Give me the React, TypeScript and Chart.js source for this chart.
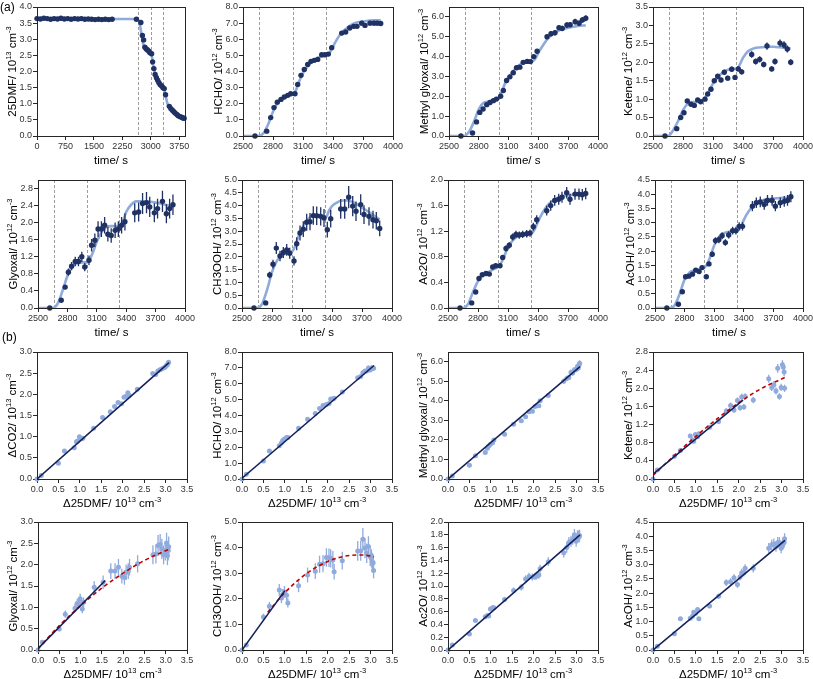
import React, { useEffect, useRef } from 'react';
import { Chart, registerables } from 'chart.js';
Chart.register(...registerables);

// ---------------- DATA ----------------
// (a) time series, 25DMF before lights-on
const T_EARLY = [0, 90, 180, 270, 360, 450, 540, 630, 720, 810, 900, 990, 1080, 1170, 1260, 1350, 1440, 1530, 1620, 1710, 1800, 1890, 1980];
const DMF_EARLY = [3.64, 3.63, 3.65, 3.64, 3.62, 3.64, 3.63, 3.65, 3.63, 3.64, 3.62, 3.64, 3.63, 3.64, 3.62, 3.63, 3.62, 3.61, 3.62, 3.61, 3.62, 3.61, 3.62];
// common measurement times (s)
const T = [2620, 2737, 2777, 2810, 2843, 2880, 2913, 2947, 2977, 3020, 3047, 3080, 3113, 3147, 3180, 3213, 3247, 3287, 3320, 3353, 3387, 3487, 3527, 3567, 3607, 3640, 3687, 3720, 3770, 3810, 3843, 3877];
const DMF = [3.62, 3.52, 3.12, 2.98, 2.75, 2.70, 2.67, 2.63, 2.58, 2.55, 2.30, 2.09, 1.91, 1.81, 1.73, 1.65, 1.59, 1.55, 1.50, 1.47, 1.28, 0.92, 0.85, 0.80, 0.75, 0.71, 0.67, 0.63, 0.60, 0.58, 0.56, 0.55];
const HCHO = [0, 0.3, 1.14, 1.76, 2.1, 2.27, 2.42, 2.52, 2.62, 2.62, 3.2, 3.76, 4.13, 4.44, 4.63, 4.69, 4.75, 5.04, 5.04, 5.08, 5.48, 6.38, 6.45, 6.7, 6.8, 6.8, 7.0, 6.86, 7.0, 7.0, 7.0, 6.98];
const MGLY = [0, 0.15, 0.71, 1.19, 1.36, 1.58, 1.69, 1.78, 1.86, 2.0, 2.29, 2.8, 2.98, 3.19, 3.44, 3.47, 3.71, 3.76, 3.75, 4.0, 4.27, 5.0, 5.15, 5.2, 5.46, 5.42, 5.59, 5.61, 5.76, 5.68, 5.85, 5.93];
const KETENE = [0, 0.2, 0.5, 0.63, 0.95, 0.86, 0.83, 0.98, 0.93, 1.0, 1.14, 1.27, 1.5, 1.62, 1.52, 1.73, 1.57, 1.81, 1.59, 1.82, 1.74, 2.21, 2.02, 2.08, 1.94, 2.44, 1.82, 2.02, 2.52, 2.47, 2.36, 2.0];
const GLYOXAL = [0, 0.18, 0.49, 0.84, 0.98, 1.09, 1.09, 1.2, 0.96, 1.12, 1.47, 1.59, 1.85, 1.85, 1.94, 1.73, 1.7, 1.82, 1.85, 1.94, 2.02, 2.23, 2.25, 2.45, 2.47, 2.37, 2.23, 2.33, 2.5, 2.21, 2.33, 2.42];
const CH3OOH = [0, 0.2, 1.29, 1.71, 2.34, 2.03, 2.17, 2.27, 2.14, 1.84, 2.51, 2.93, 3.08, 3.35, 3.37, 3.61, 3.6, 3.58, 3.52, 3.06, 3.49, 3.87, 3.87, 4.33, 3.98, 3.78, 4.04, 3.65, 3.58, 3.45, 3.41, 3.11];
const AC2O = [0, 0.08, 0.25, 0.46, 0.52, 0.54, 0.53, 0.64, 0.66, 0.66, 0.79, 0.93, 0.98, 1.11, 1.15, 1.14, 1.15, 1.16, 1.17, 1.27, 1.38, 1.52, 1.6, 1.68, 1.7, 1.73, 1.8, 1.7, 1.78, 1.78, 1.77, 1.79];
const ACOH = [0, 0.13, 0.57, 1.1, 1.12, 1.19, 1.33, 1.28, 1.42, 1.1, 1.55, 1.89, 2.37, 2.4, 2.54, 2.3, 2.57, 2.72, 2.72, 2.87, 2.87, 3.58, 3.7, 3.73, 3.64, 3.78, 3.78, 3.58, 3.7, 3.75, 3.78, 3.91];

// model curves (light blue lines)
const DMF_MODEL_T = [0, 2620, 2680, 2720, 2760, 2800, 2850, 2900, 2950, 3000, 3030, 3060, 3100, 3150, 3200, 3250, 3300, 3340, 3380, 3420, 3470, 3520, 3570, 3620, 3700, 3780, 3877];
const DMF_MODEL = [3.63, 3.63, 3.58, 3.4, 3.1, 2.85, 2.72, 2.66, 2.61, 2.56, 2.45, 2.22, 2.0, 1.82, 1.7, 1.6, 1.52, 1.47, 1.32, 1.08, 0.9, 0.82, 0.76, 0.71, 0.65, 0.6, 0.55];
const MODEL_T = [2500, 2650, 2700, 2750, 2800, 2850, 2900, 2950, 3000, 3030, 3060, 3100, 3150, 3200, 3250, 3300, 3340, 3370, 3400, 3450, 3500, 3550, 3600, 3650, 3700, 3750, 3800, 3877];
const HCHO_MODEL = [0, 0, 0.15, 0.7, 1.5, 2.1, 2.35, 2.5, 2.6, 2.85, 3.35, 3.9, 4.35, 4.65, 4.85, 4.95, 5.02, 5.2, 5.55, 6.1, 6.5, 6.75, 6.95, 7.05, 7.1, 7.15, 7.17, 7.18];
const MGLY_MODEL = [0, 0, 0.2, 0.7, 1.35, 1.68, 1.74, 1.82, 1.95, 2.2, 2.6, 2.95, 3.3, 3.55, 3.68, 3.72, 3.75, 3.9, 4.2, 4.6, 4.95, 5.15, 5.3, 5.4, 5.45, 5.5, 5.55, 5.57];
const KETENE_MODEL = [0, 0, 0.15, 0.4, 0.7, 0.88, 0.92, 0.93, 0.98, 1.08, 1.22, 1.42, 1.6, 1.73, 1.8, 1.82, 1.83, 1.95, 2.12, 2.3, 2.37, 2.4, 2.41, 2.42, 2.42, 2.41, 2.4, 2.37];
const GLYOXAL_MODEL = [0, 0, 0.1, 0.4, 0.75, 0.98, 1.05, 1.07, 1.07, 1.15, 1.3, 1.55, 1.78, 1.9, 1.92, 1.92, 1.92, 2.05, 2.25, 2.42, 2.5, 2.5, 2.5, 2.49, 2.47, 2.45, 2.42, 2.38];
const CH3OOH_MODEL = [0, 0, 0.15, 0.7, 1.4, 1.85, 2.05, 2.15, 2.2, 2.4, 2.75, 3.1, 3.42, 3.6, 3.65, 3.6, 3.55, 3.8, 3.98, 4.12, 4.2, 4.2, 4.15, 4.05, 3.92, 3.8, 3.66, 3.45];
const AC2O_MODEL = [0, 0, 0.06, 0.25, 0.42, 0.52, 0.56, 0.6, 0.64, 0.7, 0.8, 0.95, 1.06, 1.12, 1.14, 1.16, 1.17, 1.24, 1.35, 1.5, 1.61, 1.68, 1.72, 1.75, 1.76, 1.77, 1.77, 1.77];
const ACOH_MODEL = [0, 0, 0.1, 0.5, 1.0, 1.25, 1.32, 1.37, 1.42, 1.55, 1.8, 2.2, 2.5, 2.63, 2.68, 2.7, 2.72, 2.85, 3.1, 3.4, 3.6, 3.72, 3.8, 3.83, 3.85, 3.86, 3.87, 3.88];

// phase boundaries (grey dashed lines)
const PHASE_T = [2660, 3000, 3330];

// (b) correlation: Δ25DMF at each measurement time
const D_DMF = [0, 0.10, 0.50, 0.64, 0.87, 0.92, 0.95, 0.99, 1.04, 1.07, 1.32, 1.53, 1.71, 1.81, 1.89, 1.97, 2.03, 2.07, 2.12, 2.15, 2.34, 2.70, 2.77, 2.82, 2.87, 2.91, 2.95, 2.99, 3.02, 3.04, 3.06, 3.07];
const D_CO2 = [0, 0.08, 0.37, 0.66, 0.74, 0.88, 0.9, 1.0, 0.95, 0.96, 1.2, 1.45, 1.59, 1.71, 1.81, 1.78, 1.93, 1.95, 2.04, 1.98, 2.12, 2.49, 2.47, 2.55, 2.58, 2.6, 2.62, 2.64, 2.68, 2.7, 2.74, 2.76];

// linear fits (navy) : [x0, x1], [y0, y1]
const CO2_FIT_X = [0, 3.08], CO2_FIT_Y = [0, 2.75];
const HCHO_FIT_X = [0, 3.08], HCHO_FIT_Y = [0.05, 7.15];
const MGLY_FIT_X = [0, 3.08], MGLY_FIT_Y = [0, 5.75];
const KETENE_FIT_X = [0.03, 2.1], KETENE_FIT_Y = [0.13, 1.74];
const GLYOXAL_FIT_X = [0, 1.58], GLYOXAL_FIT_Y = [0.03, 1.63];
const CH3OOH_FIT_X = [0, 1.0], CH3OOH_FIT_Y = [0, 2.32];
const AC2O_FIT_X = [0, 3.08], AC2O_FIT_Y = [0, 1.8];
const ACOH_FIT_X = [0, 3.08], ACOH_FIT_Y = [0, 3.85];
// polynomial fits (red dashed)
const QUAD_X = [0, 0.5, 1.0, 1.5, 2.0, 2.5, 3.08];
const KETENE_QUAD = [0.08, 0.52, 0.94, 1.33, 1.68, 1.98, 2.24];
const GLYOXAL_QUAD = [0.03, 0.57, 1.04, 1.45, 1.8, 2.1, 2.36];
const CH3OOH_QUAD_X = [0.6, 1.0, 1.5, 2.0, 2.5, 2.8, 3.08];
const CH3OOH_QUAD = [1.47, 2.24, 2.98, 3.46, 3.69, 3.71, 3.64];

// relative uncertainties [fraction, floor]
const ERR_DMF = [0.015, 0.02];
const ERR_HCHO = [0.02, 0.05];
const ERR_MGLY = [0.025, 0.04];
const ERR_KETENE = [0.04, 0.03];
const ERR_GLYOXAL = [0.1, 0.03];
const ERR_CH3OOH = [0.1, 0.05];
const ERR_AC2O = [0.05, 0.01];
const ERR_ACOH = [0.05, 0.03];
const ERR_CO2 = [0.0, 0.02];

// tick labels
const X_TIME_FULL = [0, 750, 1500, 2250, 3000, 3750];
const X_TIME = [2500, 2800, 3100, 3400, 3700, 4000];
const X_DDMF = [0, 0.5, 1.0, 1.5, 2.0, 2.5, 3.0, 3.5];
const Y_DMF = [0, 0.5, 1.0, 1.5, 2.0, 2.5, 3.0, 3.5, 4.0];
const Y_HCHO = [0, 1, 2, 3, 4, 5, 6, 7, 8];
const Y_MGLY = [0, 1, 2, 3, 4, 5, 6];
const Y_KETENE = [0, 0.5, 1.0, 1.5, 2.0, 2.5, 3.0, 3.5];
const Y_GLYOXAL = [0, 0.4, 0.8, 1.2, 1.6, 2.0, 2.4, 2.8];
const Y_CH3OOH = [0, 0.5, 1.0, 1.5, 2.0, 2.5, 3.0, 3.5, 4.0, 4.5, 5.0];
const Y_AC2O = [0, 0.4, 0.8, 1.2, 1.6, 2.0];
const Y_ACOH = [0, 0.5, 1.0, 1.5, 2.0, 2.5, 3.0, 3.5, 4.0, 4.5];
const YB_CO2 = [0, 0.5, 1.0, 1.5, 2.0, 2.5, 3.0];
const YB_KETENE = [0, 0.4, 0.8, 1.2, 1.6, 2.0, 2.4, 2.8];
const YB_GLYOXAL = [0, 0.5, 1.0, 1.5, 2.0, 2.5, 3.0];
const YB_CH3OOH = [0, 1, 2, 3, 4, 5];
const YB_AC2O = [0, 0.2, 0.4, 0.6, 0.8, 1.0, 1.2, 1.4, 1.6, 1.8, 2.0];

// ---------------- STYLE / LAYOUT ----------------
const FONT = '"Liberation Sans", Arial, Helvetica, sans-serif';
const NAVY = '#1F3263';
const LIGHT = '#8FAADC';
const FIT_NAVY = '#14205A';
const RED = '#C00000';
const COL_X = [0, 203, 406, 609];
const COL_W = [203, 203, 203, 204];
const ROW_Y = [0, 170, 340, 510];
const ROW_H = [170, 170, 170, 169];
const ROW_PLOT_T = [7, 180, 352, 522];
const ROW_PLOT_B = [136, 308, 479, 650];

type Panel = {
  col: number; row: number; plotL: number; plotR: number;
  xMin: number; xMax: number; xTicks: number[]; xDec: number;
  yMax: number; yTicks: number[]; yDec: number;
  xTitle: string; yTitle: string; vlines?: number[]; datasets: any[];
};

const pts = (xs: number[], ys: number[]) => xs.map((x, i) => ({ x, y: ys[i] }));
const errs = (ys: number[], e: number[]) => ys.map((v) => Math.max(e[1], e[0] * v));

const pointsDs = (xs: number[], ys: number[], e: number[], color: string, r: number, xErr?: number) => ({
  data: pts(xs, ys), yErr: errs(ys, e), xErr, errColor: color,
  showLine: false, pointRadius: r, pointBackgroundColor: color, pointBorderWidth: 0, clip: false,
});
const lineDs = (xs: number[], ys: number[], color: string, w: number, dash: number[] = []) => ({
  data: pts(xs, ys), showLine: true, borderColor: color, borderWidth: w, borderDash: dash,
  pointRadius: 0, cubicInterpolationMode: 'monotone', fill: false,
});

const aPanel = (col: number, row: number, plotL: number, plotR: number, yTitle: string, yMax: number, yTicks: number[], ys: number[], model: number[], e: number[]): Panel => ({
  col, row, plotL, plotR, xMin: 2500, xMax: 4000, xTicks: X_TIME, xDec: 0, yMax, yTicks, yDec: 1,
  xTitle: 'time/ s', yTitle, vlines: PHASE_T,
  datasets: [pointsDs(T, ys, e, NAVY, 2.7, 12), lineDs(MODEL_T, model, LIGHT, 2.6)],
});
const bPanel = (col: number, row: number, plotL: number, plotR: number, yTitle: string, yMax: number, yTicks: number[], ys: number[], e: number[], fitX: number[], fitY: number[], quadX?: number[], quadY?: number[]): Panel => {
  const ds: any[] = [lineDs(fitX, fitY, FIT_NAVY, 1.6)];
  if (quadX && quadY) ds.push(lineDs(quadX, quadY, RED, 1.6, [4, 3]));
  ds.push(pointsDs(D_DMF, ys, e, LIGHT, 2.5));
  return {
    col, row, plotL, plotR, xMin: 0, xMax: 3.5, xTicks: X_DDMF, xDec: 1, yMax, yTicks, yDec: 1,
    xTitle: '\u039425DMF/ 10^{13} cm^{-3}', yTitle, datasets: ds,
  };
};

const PANELS: Panel[] = [
  {
    col: 0, row: 0, plotL: 37, plotR: 185, xMin: 0, xMax: 3900, xTicks: X_TIME_FULL, xDec: 0,
    yMax: 4, yTicks: Y_DMF, yDec: 1, xTitle: 'time/ s', yTitle: '25DMF/ 10^{13} cm^{-3}', vlines: PHASE_T,
    datasets: [
      pointsDs(T_EARLY.concat(T), DMF_EARLY.concat(DMF), ERR_DMF, NAVY, 2.7, 25),
      lineDs(DMF_MODEL_T, DMF_MODEL, LIGHT, 2.6),
    ],
  },
  aPanel(1, 0, 243, 393, 'HCHO/ 10^{12} cm^{-3}', 8, Y_HCHO, HCHO, HCHO_MODEL, ERR_HCHO),
  aPanel(2, 0, 449, 598, 'Methyl glyoxal/ 10^{12} cm^{-3}', 6.5, Y_MGLY, MGLY, MGLY_MODEL, ERR_MGLY),
  aPanel(3, 0, 653, 803, 'Ketene/ 10^{12} cm^{-3}', 3.5, Y_KETENE, KETENE, KETENE_MODEL, ERR_KETENE),
  aPanel(0, 1, 38, 185, 'Glyoxal/ 10^{12} cm^{-3}', 3.0, Y_GLYOXAL, GLYOXAL, GLYOXAL_MODEL, ERR_GLYOXAL),
  aPanel(1, 1, 242, 392, 'CH3OOH/ 10^{12} cm^{-3}', 5.0, Y_CH3OOH, CH3OOH, CH3OOH_MODEL, ERR_CH3OOH),
  aPanel(2, 1, 448, 598, 'Ac2O/ 10^{12} cm^{-3}', 2.0, Y_AC2O, AC2O, AC2O_MODEL, ERR_AC2O),
  aPanel(3, 1, 655, 803, 'AcOH/ 10^{12} cm^{-3}', 4.5, Y_ACOH, ACOH, ACOH_MODEL, ERR_ACOH),
  bPanel(0, 2, 37, 187, '\u0394CO2/ 10^{13} cm^{-3}', 3.0, YB_CO2, D_CO2, ERR_CO2, CO2_FIT_X, CO2_FIT_Y),
  bPanel(1, 2, 242, 392, 'HCHO/ 10^{12} cm^{-3}', 8, Y_HCHO, HCHO, ERR_HCHO, HCHO_FIT_X, HCHO_FIT_Y),
  bPanel(2, 2, 448, 598, 'Methyl glyoxal/ 10^{12} cm^{-3}', 6.5, Y_MGLY, MGLY, ERR_MGLY, MGLY_FIT_X, MGLY_FIT_Y),
  bPanel(3, 2, 653, 803, 'Ketene/ 10^{12} cm^{-3}', 2.8, YB_KETENE, KETENE, ERR_KETENE, KETENE_FIT_X, KETENE_FIT_Y, QUAD_X, KETENE_QUAD),
  bPanel(0, 3, 38, 187, 'Glyoxal/ 10^{12} cm^{-3}', 3.0, YB_GLYOXAL, GLYOXAL, ERR_GLYOXAL, GLYOXAL_FIT_X, GLYOXAL_FIT_Y, QUAD_X, GLYOXAL_QUAD),
  bPanel(1, 3, 242, 392, 'CH3OOH/ 10^{12} cm^{-3}', 5.0, YB_CH3OOH, CH3OOH, ERR_CH3OOH, CH3OOH_FIT_X, CH3OOH_FIT_Y, CH3OOH_QUAD_X, CH3OOH_QUAD),
  bPanel(2, 3, 448, 598, 'Ac2O/ 10^{12} cm^{-3}', 2.0, YB_AC2O, AC2O, ERR_AC2O, AC2O_FIT_X, AC2O_FIT_Y),
  bPanel(3, 3, 653, 803, 'AcOH/ 10^{12} cm^{-3}', 4.5, Y_ACOH, ACOH, ERR_ACOH, ACOH_FIT_X, ACOH_FIT_Y),
];

// ---------------- DRAWING HELPERS ----------------
function parseRich(s: string) {
  const parts: { t: string; sup: boolean }[] = [];
  const re = /\^\{([^}]*)\}/g;
  let last = 0;
  let m: RegExpExecArray | null;
  while ((m = re.exec(s))) {
    if (m.index > last) parts.push({ t: s.slice(last, m.index), sup: false });
    parts.push({ t: m[1], sup: true });
    last = re.lastIndex;
  }
  if (last < s.length) parts.push({ t: s.slice(last), sup: false });
  return parts;
}

function drawRich(ctx: CanvasRenderingContext2D, s: string, cx: number, cy: number, rotate: boolean) {
  const parts = parseRich(s);
  const base = `11.5px ${FONT}`;
  const sup = `7.5px ${FONT}`;
  let w = 0;
  for (const p of parts) { ctx.font = p.sup ? sup : base; w += ctx.measureText(p.t).width; }
  ctx.save();
  ctx.translate(cx, cy);
  if (rotate) ctx.rotate(-Math.PI / 2);
  ctx.fillStyle = '#000';
  ctx.textAlign = 'left';
  ctx.textBaseline = 'alphabetic';
  let x = -w / 2;
  for (const p of parts) {
    ctx.font = p.sup ? sup : base;
    ctx.fillText(p.t, x, p.sup ? -1.5 : 4);
    x += ctx.measureText(p.t).width;
  }
  ctx.restore();
}

function makeChart(canvas: HTMLCanvasElement, p: Panel) {
  const cl = COL_X[p.col], ct = ROW_Y[p.row], cw = COL_W[p.col], ch = ROW_H[p.row];
  const yW = p.plotL - cl;
  const padR = cl + cw - p.plotR;
  const padT = ROW_PLOT_T[p.row] - ct;
  const xH = ct + ch - ROW_PLOT_B[p.row];

  const plugin = {
    id: 'paperDecor',
    beforeDatasetsDraw(chart: any) {
      if (!p.vlines) return;
      const { ctx, chartArea: a } = chart;
      const xs = chart.scales.x;
      ctx.save();
      ctx.strokeStyle = '#9C9C9C';
      ctx.lineWidth = 1;
      ctx.setLineDash([3, 2]);
      for (const v of p.vlines) {
        const x = Math.round(xs.getPixelForValue(v)) + 0.5;
        ctx.beginPath(); ctx.moveTo(x, a.top); ctx.lineTo(x, a.bottom); ctx.stroke();
      }
      ctx.restore();
    },
    beforeDatasetDraw(chart: any, args: any) {
      const ds: any = chart.data.datasets[args.index];
      if (!ds.yErr) return;
      const { ctx } = chart;
      const xs = chart.scales.x, ysc = chart.scales.y;
      ctx.save();
      ctx.strokeStyle = ds.errColor;
      ctx.lineWidth = 1.3;
      ds.data.forEach((d: any, i: number) => {
        const px = xs.getPixelForValue(d.x);
        const e = ds.yErr[i];
        ctx.beginPath();
        ctx.moveTo(px, ysc.getPixelForValue(d.y - e));
        ctx.lineTo(px, ysc.getPixelForValue(d.y + e));
        if (ds.xErr) {
          const py = ysc.getPixelForValue(d.y);
          ctx.moveTo(xs.getPixelForValue(d.x - ds.xErr), py);
          ctx.lineTo(xs.getPixelForValue(d.x + ds.xErr), py);
        }
        ctx.stroke();
      });
      ctx.restore();
    },
    afterDraw(chart: any) {
      const { ctx, chartArea: a } = chart;
      ctx.save();
      ctx.strokeStyle = '#262626';
      ctx.lineWidth = 1;
      ctx.strokeRect(Math.round(a.left) + 0.5, Math.round(a.top) + 0.5, Math.round(a.right - a.left), Math.round(a.bottom - a.top));
      ctx.restore();
      drawRich(ctx, p.xTitle, (a.left + a.right) / 2, a.bottom + 24, false);
      drawRich(ctx, p.yTitle, a.left - 25, (a.top + a.bottom) / 2, true);
    },
  };

  const grid = { display: true, drawOnChartArea: false, drawTicks: true, tickLength: 4, color: '#262626', lineWidth: 1 };
  const tickFont = { family: FONT, size: 9 };

  return new Chart(canvas, {
    type: 'scatter',
    data: { datasets: p.datasets },
    options: {
      animation: false,
      responsive: false,
      devicePixelRatio: 1,
      events: [],
      layout: { padding: { left: 0, top: padT, right: padR, bottom: 0 } },
      plugins: { legend: { display: false }, tooltip: { enabled: false } },
      scales: {
        x: {
          type: 'linear', min: p.xMin, max: p.xMax,
          afterBuildTicks: (s: any) => { s.ticks = p.xTicks.map((v) => ({ value: v })); },
          afterFit: (s: any) => { s.height = xH; s.paddingLeft = 0; s.paddingRight = 0; },
          ticks: { autoSkip: false, maxRotation: 0, padding: 1, color: '#333', font: tickFont, callback: (v: any) => Number(v).toFixed(p.xDec) },
          grid, border: { display: true, color: '#262626' },
        },
        y: {
          type: 'linear', min: 0, max: p.yMax,
          afterBuildTicks: (s: any) => { s.ticks = p.yTicks.map((v) => ({ value: v })); },
          afterFit: (s: any) => { s.width = yW; s.paddingTop = 0; s.paddingBottom = 0; },
          ticks: { autoSkip: false, padding: 1, color: '#333', font: tickFont, callback: (v: any) => Number(v).toFixed(p.yDec) },
          grid, border: { display: true, color: '#262626' },
        },
      },
    } as any,
    plugins: [plugin],
  });
}

export default function App() {
  const refs = useRef<(HTMLCanvasElement | null)[]>([]);
  useEffect(() => {
    const charts = PANELS.map((p, i) => makeChart(refs.current[i] as HTMLCanvasElement, p));
    return () => charts.forEach((c) => c.destroy());
  }, []);
  return (
    <div style={{ position: 'absolute', left: 0, top: 0, width: 813, height: 679, background: '#fff', fontFamily: FONT, overflow: 'hidden' }}>
      {PANELS.map((p, i) => (
        <canvas
          key={i}
          ref={(el) => { refs.current[i] = el; }}
          width={COL_W[p.col]}
          height={ROW_H[p.row]}
          style={{ position: 'absolute', left: COL_X[p.col], top: ROW_Y[p.row], width: COL_W[p.col], height: ROW_H[p.row] }}
        />
      ))}
      <div style={{ position: 'absolute', left: 0, top: 0, fontSize: 12, lineHeight: '14px', color: '#000' }}>(a)</div>
      <div style={{ position: 'absolute', left: 2, top: 330, fontSize: 12, lineHeight: '14px', color: '#000' }}>(b)</div>
    </div>
  );
}
